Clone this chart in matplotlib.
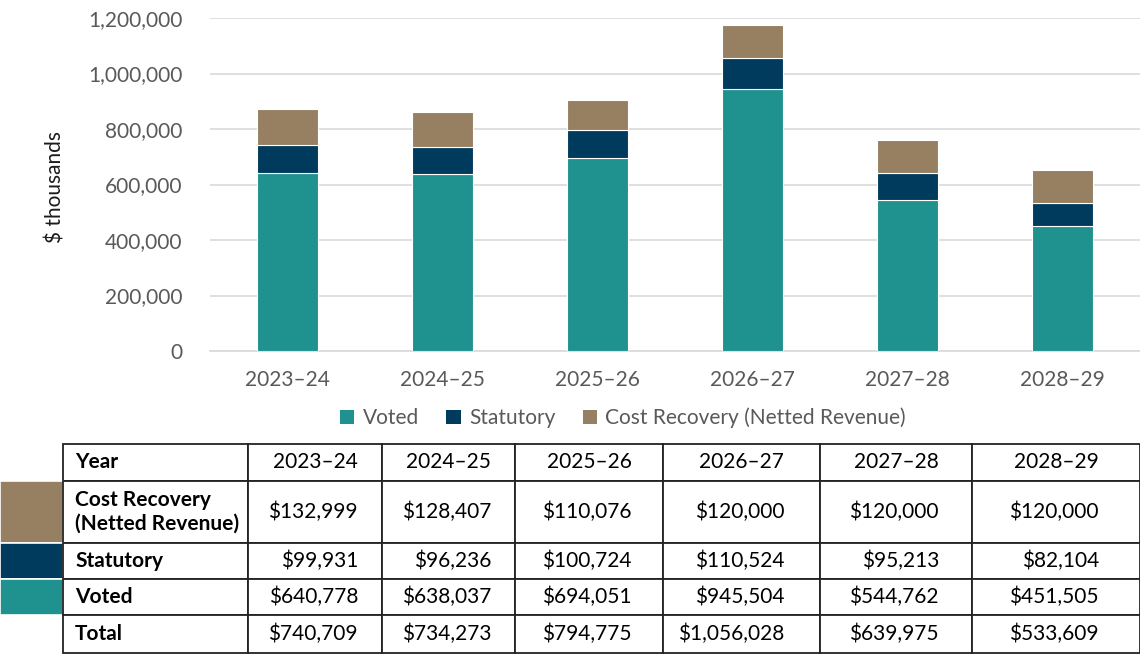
import numpy as np
import matplotlib
matplotlib.use('Agg')
import matplotlib.pyplot as plt
from matplotlib.ticker import FuncFormatter, MultipleLocator
from matplotlib.patches import Patch

# ---------------- data ----------------
years = ['2023–24', '2024–25', '2025–26', '2026–27', '2027–28', '2028–29']
voted = [640778, 638037, 694051, 945504, 544762, 451505]
statutory = [99931, 96236, 100724, 110524, 95213, 82104]
cost_recovery = [132999, 128407, 110076, 120000, 120000, 120000]
totals = [740709, 734273, 794775, 1056028, 639975, 533609]
series_names = ['Voted', 'Statutory', 'Cost Recovery (Netted Revenue)']

# ---------------- style ----------------
TEAL = '#1F918E'
NAVY = '#003A5D'
BROWN = '#977F62'
GRID = '#D9D9D9'
TICK = '#595959'

plt.rcParams['font.family'] = ['Lato', 'DejaVu Sans']

W, H = 1140, 660
fig = plt.figure(figsize=(W / 100, H / 100), dpi=100)

ax = fig.add_axes([210 / W, 1 - 351 / H, 930 / W, 333 / H])
x = np.arange(len(years))
v = np.array(voted)
s = np.array(statutory)
c = np.array(cost_recovery)
bw = 0.39
ax.bar(x, v, width=bw, color=TEAL, edgecolor='white', linewidth=0.8, zorder=3)
ax.bar(x, s, bottom=v, width=bw, color=NAVY, edgecolor='white', linewidth=0.8, zorder=3)
ax.bar(x, c, bottom=v + s, width=bw, color=BROWN, edgecolor='white', linewidth=0.8, zorder=3)

ax.set_xlim(-0.5, len(years) - 0.5)
ax.set_ylim(0, 1200000)
ax.yaxis.set_major_locator(MultipleLocator(200000))
ax.yaxis.set_major_formatter(FuncFormatter(lambda val, p: f'{val:,.0f}'))
ax.set_xticks(x)
ax.set_xticklabels(years)
ax.grid(axis='y', color=GRID, linewidth=1.2, zorder=0)
ax.set_axisbelow(True)
for sp in ['top', 'right', 'left']:
    ax.spines[sp].set_visible(False)
ax.spines['bottom'].set_color(GRID)
ax.spines['bottom'].set_linewidth(1.2)
ax.tick_params(axis='both', length=0, labelsize=15, colors=TICK)
ax.tick_params(axis='y', pad=20)
ax.tick_params(axis='x', pad=14)

fig.text(55 / W, 1 - 187 / H, '$ thousands', rotation=90, ha='center', va='center',
         fontsize=15, color='#1a1a1a')

handles = [Patch(facecolor=TEAL), Patch(facecolor=NAVY), Patch(facecolor=BROWN)]
fig.legend(handles, series_names, loc='center', bbox_to_anchor=(623 / W, 1 - 418 / H),
           ncol=3, frameon=False, fontsize=15, handlelength=0.7, handleheight=0.7,
           handletextpad=0.4, columnspacing=1.3, labelcolor=TICK)

# ---------------- table ----------------
col_px = [63, 185, 134, 133, 148, 157, 152, 168]
row_px = [37, 62, 36, 36, 38]
total_h = sum(row_px)
tax = fig.add_axes([0, 1 - 653 / H, 1, total_h / H])
tax.axis('off')

def money(vals):
    return [f'${val:,.0f}' for val in vals]

row_labels = ['Year', 'Cost Recovery\n(Netted Revenue)', 'Statutory', 'Voted', 'Total']
cell_text = [
    ['', row_labels[0]] + years,
    ['', row_labels[1]] + money(cost_recovery),
    ['', row_labels[2]] + money(statutory),
    ['', row_labels[3]] + money(voted),
    ['', row_labels[4]] + money(totals),
]
swatch = {1: BROWN, 2: NAVY, 3: TEAL}

tbl = tax.table(cellText=cell_text, colWidths=[w / W for w in col_px],
                bbox=[0, 0, 1, 1], cellLoc='center')
tbl.auto_set_font_size(False)
tbl.set_fontsize(15)
for (r, cc), cell in tbl.get_celld().items():
    cell.set_height(row_px[r] / total_h)
    cell.set_linewidth(1.3)
    cell.set_edgecolor('#222222')
    txt = cell.get_text()
    txt.set_color('black')
    if cc == 0:
        if r in swatch:
            cell.set_facecolor(swatch[r])
            cell.set_edgecolor('white')
            cell.set_linewidth(1.2)
        else:
            cell.set_visible(False)
    elif cc == 1:
        cell._loc = 'left'
        txt.set_ha('left')
        cell.PAD = 12 / col_px[cc]
        txt.set_fontweight('bold')
        txt.set_linespacing(1.25)
    elif r > 0:
        wpx = col_px[cc]
        cell._loc = 'right'
        txt.set_ha('right')
        cell.PAD = (wpx / 2 - 43) / wpx

fig.savefig('out.png', dpi=100)
